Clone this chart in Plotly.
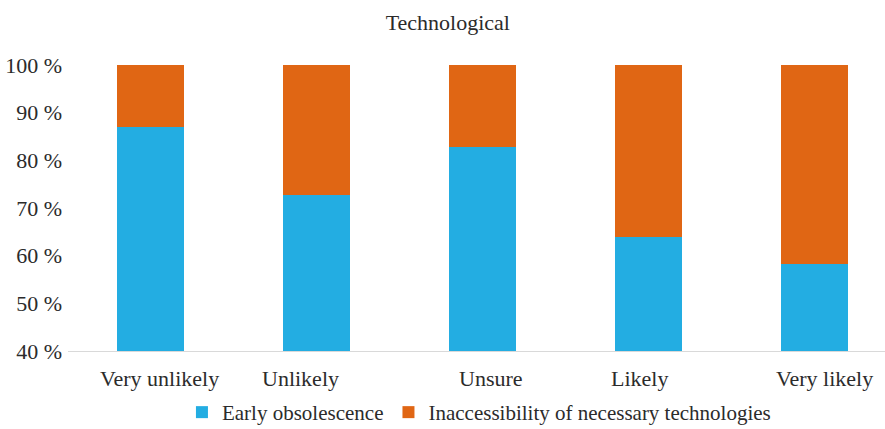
import plotly.graph_objects as go

# Survey answer categories and the share of each reason (%)
categories = ["Very unlikely", "Unlikely", "Unsure", "Likely", "Very likely"]
early_obsolescence = [87.0, 72.7, 82.8, 63.9, 58.3]
inaccessibility = [round(100 - v, 1) for v in early_obsolescence]

# y-axis ticks
y_ticks = [40, 50, 60, 70, 80, 90, 100]
y_tick_labels = [f"{v} %" for v in y_ticks]

# small horizontal nudges for the category labels (px)
label_nudge = [9, -16, 8, -9, 10]

BLUE = "#23ADE2"
ORANGE = "#E06614"
TEXT = "#2b2b2b"
FONT = "Times New Roman, Liberation Serif, Tinos, Nimbus Roman, DejaVu Serif"
SIZE = 22

fig = go.Figure()
fig.add_trace(go.Bar(x=categories, y=early_obsolescence, name="Early obsolescence",
                     marker=dict(color=BLUE, line=dict(width=0))))
fig.add_trace(go.Bar(x=categories, y=inaccessibility,
                     name="Inaccessibility of necessary technologies",
                     marker=dict(color=ORANGE, line=dict(width=0))))

annotations = []
for cat, dx in zip(categories, label_nudge):
    annotations.append(dict(x=cat, xref="x", y=0, yref="paper", yshift=-27,
                            xshift=dx, text=cat, showarrow=False,
                            xanchor="center", yanchor="middle",
                            font=dict(family=FONT, size=SIZE, color=TEXT)))

fig.update_layout(
    width=885, height=429,
    margin=dict(l=68, r=0, t=65, b=78, autoexpand=False),
    paper_bgcolor="white", plot_bgcolor="white",
    barmode="stack", bargap=0.596,
    font=dict(family=FONT, size=SIZE, color=TEXT),
    title=dict(text="Technological", x=0.506, xanchor="center", y=0.948,
               yanchor="middle", font=dict(family=FONT, size=SIZE, color=TEXT)),
    xaxis=dict(type="category", range=[-0.5, 4.425], showticklabels=False,
               showgrid=False, showline=True, linecolor="#d9d9d9", linewidth=1,
               ticks="", zeroline=False, fixedrange=True),
    yaxis=dict(range=[40, 100], tickmode="array", tickvals=y_ticks,
               ticktext=y_tick_labels, showgrid=False, showline=False,
               zeroline=False, ticks="", ticklabelstandoff=5,
               tickfont=dict(family=FONT, size=SIZE, color=TEXT)),
    legend=dict(orientation="h", x=0.503, xanchor="center", y=-0.215,
                yanchor="middle", font=dict(family=FONT, size=21, color=TEXT),
                traceorder="normal"),
    annotations=annotations,
    showlegend=True,
)

fig.write_html("out.html")
